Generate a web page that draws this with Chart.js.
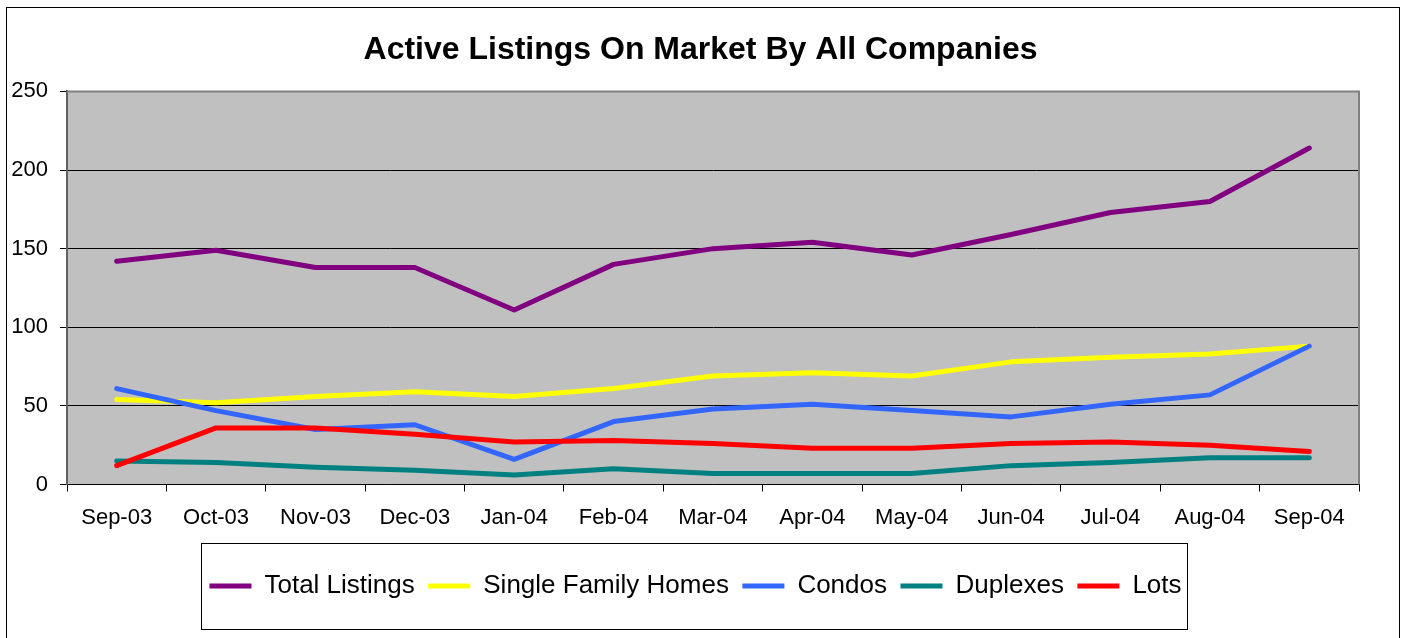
<!DOCTYPE html>
<html>
<head>
<meta charset="utf-8">
<script src="https://cdn.jsdelivr.net/npm/chart.js@4.4.1/dist/chart.umd.min.js"></script>
<style>
  html, body { margin: 0; padding: 0; background: #ffffff; }
  #wrap { width: 1401px; height: 638px; }
</style>
</head>
<body>
<div id="wrap"><canvas id="c" width="1401" height="638"></canvas></div>
<script>
const chartTitle = 'Active Listings On Market By All Companies';
const categories = ['Sep-03','Oct-03','Nov-03','Dec-03','Jan-04','Feb-04','Mar-04','Apr-04','May-04','Jun-04','Jul-04','Aug-04','Sep-04'];
const totalListings      = [142, 149, 138, 138, 111, 140, 150, 154, 146, 159, 173, 180, 214];
const singleFamilyHomes  = [ 54,  52,  56,  59,  56,  61,  69,  71,  69,  78,  81,  83,  88];
const condos             = [ 61,  47,  35,  38,  16,  40,  48,  51,  47,  43,  51,  57,  88];
const duplexes           = [ 15,  14,  11,   9,   6,  10,   7,   7,   7,  12,  14,  17,  17];
const lots               = [ 12,  36,  36,  32,  27,  28,  26,  23,  23,  26,  27,  25,  21];
const yMin = 0, yMax = 250, yStep = 50;

const FONT = "'Liberation Sans', Arial, sans-serif";

const framePlugin = {
  id: 'frame',
  afterLayout(chart) {
    // nudge the bottom legend slightly left, as in the reference
    const lg = chart.legend;
    if (lg) { lg.left -= 5; lg.right -= 5; }
  },
  beforeDraw(chart) {
    const { ctx, chartArea: a } = chart;
    ctx.save();
    ctx.fillStyle = '#ffffff';
    ctx.fillRect(0, 0, chart.width, chart.height);
    ctx.strokeStyle = '#000000';
    ctx.lineWidth = 1;
    ctx.strokeRect(6.5, 7.5, chart.width - 8, chart.height + 20);
    ctx.fillStyle = '#C0C0C0';
    ctx.fillRect(a.left, a.top, a.right - a.left, a.bottom - a.top);
    ctx.restore();
  },
  afterDraw(chart) {
    const { ctx, chartArea: a } = chart;
    ctx.save();
    ctx.strokeStyle = '#808080';
    ctx.lineWidth = 2;
    ctx.beginPath();
    ctx.moveTo(a.left, a.top);
    ctx.lineTo(a.right, a.top);
    ctx.lineTo(a.right, a.bottom);
    ctx.stroke();
    const hb = chart.legend.legendHitBoxes;
    if (hb && hb.length) {
      const first = hb[0], last = hb[hb.length - 1];
      const left = Math.round(first.left - 8) + 0.5;
      const right = Math.round(last.left + last.width + 5) + 0.5;
      const cy = first.top + first.height / 2;
      const top = Math.round(cy - 43) + 0.5;
      const bottom = Math.round(cy + 43) + 0.5;
      ctx.strokeStyle = '#000000';
      ctx.lineWidth = 1;
      ctx.strokeRect(left, top, right - left, bottom - top);
    }
    ctx.restore();
  }
};

function series(label, data, color, order) {
  return {
    label, data,
    borderColor: color, backgroundColor: color,
    borderWidth: 5, pointRadius: 0, pointHoverRadius: 0,
    tension: 0, fill: false,
    borderCapStyle: 'round', borderJoinStyle: 'round',
    order
  };
}

new Chart(document.getElementById('c'), {
  type: 'line',
  data: {
    labels: categories,
    datasets: [
      series('Total Listings', totalListings, '#800080', 5),
      series('Single Family Homes', singleFamilyHomes, '#FFFF00', 4),
      series('Condos', condos, '#3366FF', 3),
      series('Duplexes', duplexes, '#008080', 2),
      series('Lots', lots, '#FF0000', 1)
    ]
  },
  options: {
    responsive: false,
    animation: false,
    events: [],
    layout: { padding: { left: 0, right: 0, top: 0, bottom: 29 } },
    plugins: {
      tooltip: { enabled: false },
      title: {
        display: true,
        text: chartTitle,
        color: '#000000',
        font: { family: FONT, size: 32, weight: 'bold' },
        padding: { top: 31, bottom: 22 }
      },
      legend: {
        display: true,
        position: 'bottom',
        labels: {
          usePointStyle: true,
          pointStyle: 'line',
          pointStyleWidth: 42,
          padding: 13.5,
          color: '#000000',
          font: { family: FONT, size: 26 },
          sort: (a, b) => a.datasetIndex - b.datasetIndex
        }
      }
    },
    scales: {
      x: {
        type: 'category',
        offset: true,
        grid: { display: true, drawOnChartArea: false, offset: true, tickLength: 7, color: '#000000', lineWidth: 1 },
        border: { display: true, color: '#000000', width: 1 },
        ticks: { color: '#000000', font: { family: FONT, size: 22 }, padding: 13, maxRotation: 0, autoSkip: false },
        afterFit: (s) => { s.height = 75; }
      },
      y: {
        type: 'linear',
        position: 'left',
        min: yMin, max: yMax,
        grid: { color: '#000000', lineWidth: 1, tickLength: 7, tickColor: '#000000' },
        border: { display: true, color: '#606060', width: 2 },
        ticks: { stepSize: yStep, color: '#000000', font: { family: FONT, size: 22 }, padding: 12 },
        afterFit: (s) => { s.width = 67; }
      },
      yR: {
        type: 'linear',
        position: 'right',
        display: true,
        grid: { display: false },
        border: { display: false },
        ticks: { display: false },
        afterFit: (s) => { s.width = 42; }
      }
    }
  },
  plugins: [framePlugin]
});
</script>
</body>
</html>
